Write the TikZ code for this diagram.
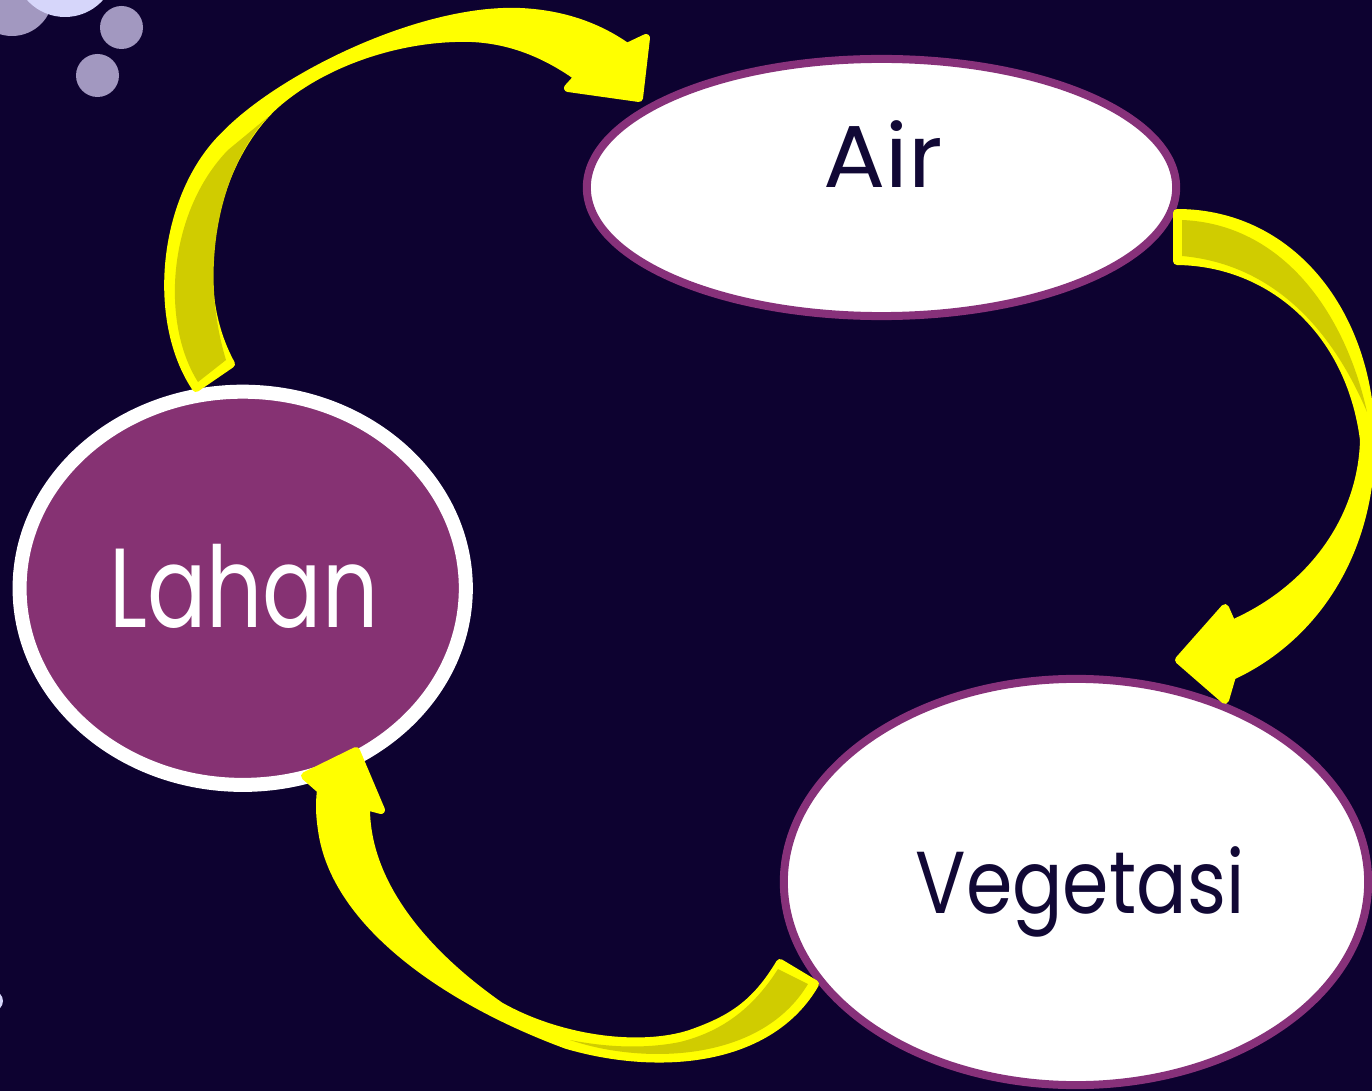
\documentclass[tikz,border=0pt]{standalone}
\usepackage{fontspec}
\setmainfont{Poppins}
\usetikzlibrary{shapes.geometric}
\definecolor{night}{HTML}{0D0230}
\definecolor{plum}{HTML}{87317A}
\definecolor{plumfill}{HTML}{863273}
\definecolor{lemon}{HTML}{FFFF00}
\definecolor{olive}{HTML}{D0CC00}
\definecolor{bubblegrey}{HTML}{A298C0}
\definecolor{bubblelight}{HTML}{D6D6FA}
\definecolor{ink}{HTML}{110835}
\begin{document}
\begin{tikzpicture}[x=0.01cm,y=-0.01cm,
  topic/.style={ellipse, inner sep=0pt, outer sep=0pt},
  lightbox/.style={topic, fill=white, draw=plum, line width=0.08cm},
  darkbox/.style={topic, fill=plumfill, draw=white, line width=0.14cm},
  caption/.style={anchor=base, inner sep=0pt},
  arrowbody/.style={fill=lemon, draw=lemon, line width=0.08cm, line join=round},
  arrowback/.style={fill=olive}]
  % canvas
  \useasboundingbox (0,0) rectangle (1372,1091);
  \clip (0,0) rectangle (1372,1091);
  \fill[night] (0,0) rectangle (1372,1091);

  % bubbles in the corner
  \fill[bubblegrey] (12,-5) circle[radius=41];
  \fill[bubblelight] (65,-34) circle[radius=51];
  \fill[bubblegrey] (121.5,27.5) circle[radius=21.5];
  \fill[bubblegrey] (97.5,75.5) circle[radius=21.5];
  \fill[bubblelight] (-7,1001) circle[radius=10];

  % topics
  \node[lightbox, minimum width=5.89cm, minimum height=2.57cm] (air) at (881.5,187.5) {};
  \node[darkbox, minimum width=4.46cm, minimum height=3.93cm] (lahan) at (242.7,588.3) {};
  \node[lightbox, minimum width=5.84cm, minimum height=4.06cm] (veg) at (1076,882) {};

  \node[caption, text=ink, font=\fontsize{25}{30}\selectfont] (airtext) at (883,188) {\scalebox{1.05}[1]{Air}};
  \node[caption, text=white, font=\fontsize{32}{38}\selectfont] (lahantext) at (244,627) {\scalebox{0.78}[1]{Lahan}};
  \node[caption, text=ink, font=\fontsize{25}{30}\selectfont] (vegtext) at (1080,913) {\scalebox{0.85}[1]{Vegetasi}};

  % curved arrow: Lahan -> Air
  \path[arrowbody] (196,388)
    .. controls (150,320) and (162,196) .. (225,135)
    .. controls (280,78) and (420,8) .. (520,12)
    .. controls (565,14) and (600,28) .. (627,47)
    -- (646,38) -- (639,98) -- (568,88) -- (578,77)
    .. controls (540,50) and (500,36) .. (455,38)
    .. controls (390,40) and (320,65) .. (275,105)
    .. controls (215,160) and (185,280) .. (231,364)
    -- cycle;
  \path[arrowback] (198,382)
    .. controls (160,322) and (168,212) .. (228,150)
    -- (268,117)
    .. controls (222,165) and (197,265) .. (226,360) -- cycle;

  % curved arrow: Air -> Vegetasi
  \path[arrowbody] (1177,213)
    .. controls (1295,213) and (1374,320) .. (1371,450)
    .. controls (1368,560) and (1310,640) .. (1232,676)
    -- (1225,700) -- (1179,660) -- (1225,608) -- (1232,624)
    .. controls (1310,590) and (1362,520) .. (1364,440)
    .. controls (1350,330) and (1270,262) .. (1177,261)
    -- cycle;
  \path[arrowback] (1182,220)
    .. controls (1282,224) and (1345,312) .. (1367,412)
    .. controls (1330,325) and (1270,264) .. (1182,256) -- cycle;

  % curved arrow: Vegetasi -> Lahan
  \path[arrowbody] (815,984)
    .. controls (770,1062) and (660,1072) .. (567,1045)
    .. controls (450,1002) and (335,925) .. (322,830)
    .. controls (319,810) and (320,800) .. (321,790)
    -- (305,776) -- (356,751) -- (381,810) -- (366,806)
    .. controls (365,880) and (420,950) .. (500,1006)
    .. controls (560,1040) and (640,1050) .. (690,1034)
    .. controls (730,1020) and (755,1005) .. (780,963)
    -- cycle;
  \path[arrowback] (778,969)
    .. controls (752,1010) and (720,1032) .. (680,1042)
    .. controls (640,1050) and (600,1046) .. (570,1040)
    .. controls (640,1064) and (760,1064) .. (808,984) -- cycle;
\end{tikzpicture}
\end{document}
